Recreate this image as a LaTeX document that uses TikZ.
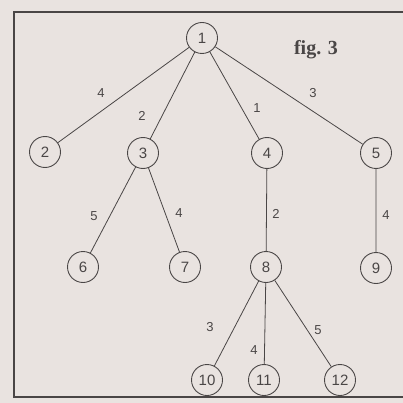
\documentclass[tikz,border=0pt]{standalone}
\usepackage{fontspec}
\setsansfont{Liberation Sans}
\newfontfamily\figfont{Liberation Serif}
\begin{document}
\begin{tikzpicture}[x=1pt,y=-1pt,
  vtx/.style={circle,draw=ink,line width=0.9pt,minimum size=31pt,inner sep=0pt,text=ink,font=\sffamily\fontsize{15}{15}\selectfont},
  edge/.style={draw=ink,line width=0.8pt},
  wt/.style={text=ink,font=\sffamily\fontsize{13}{13}\selectfont,inner sep=1pt}]
\definecolor{ink}{HTML}{4A4646}
\definecolor{paper}{HTML}{E9E3E0}
\fill[paper] (0,0) rectangle (403,403);
\useasboundingbox (0,0) rectangle (403,403);
\draw[ink,line width=1.4pt] (403,12) -- (14,12) -- (14,397) -- (403,397);
\node[vtx] (n1) at (202,38) {1};
\node[vtx] (n2) at (45,152) {2};
\node[vtx] (n3) at (143,153) {3};
\node[vtx] (n4) at (267,153) {4};
\node[vtx] (n5) at (376,153) {5};
\node[vtx] (n6) at (83,267) {6};
\node[vtx] (n7) at (185,267) {7};
\node[vtx] (n8) at (266,267) {8};
\node[vtx] (n9) at (376,268) {9};
\node[vtx] (n10) at (207,380) {10};
\node[vtx] (n11) at (264,380) {11};
\node[vtx] (n12) at (340,380) {12};
\path[edge] (n1) -- (n2) (n1) -- (n3) (n1) -- (n4) (n1) -- (n5)
  (n3) -- (n6) (n3) -- (n7) (n4) -- (n8) (n5) -- (n9)
  (n8) -- (n10) (n8) -- (n11) (n8) -- (n12);
\node[wt] (w12) at (101,93) {4};
\node[wt] (w13) at (142,116) {2};
\node[wt] (w14) at (257,108) {1};
\node[wt] (w15) at (313,93) {3};
\node[wt] (w36) at (94,216) {5};
\node[wt] (w37) at (179,213) {4};
\node[wt] (w48) at (276,214) {2};
\node[wt] (w59) at (386,215) {4};
\node[wt] (w810) at (210,327) {3};
\node[wt] (w811) at (254,350) {4};
\node[wt] (w812) at (318,330) {5};
\node[text=ink,font=\figfont\bfseries\fontsize{20}{20}\selectfont] (fig) at (316,50) {fig. 3};
\end{tikzpicture}
\end{document}
